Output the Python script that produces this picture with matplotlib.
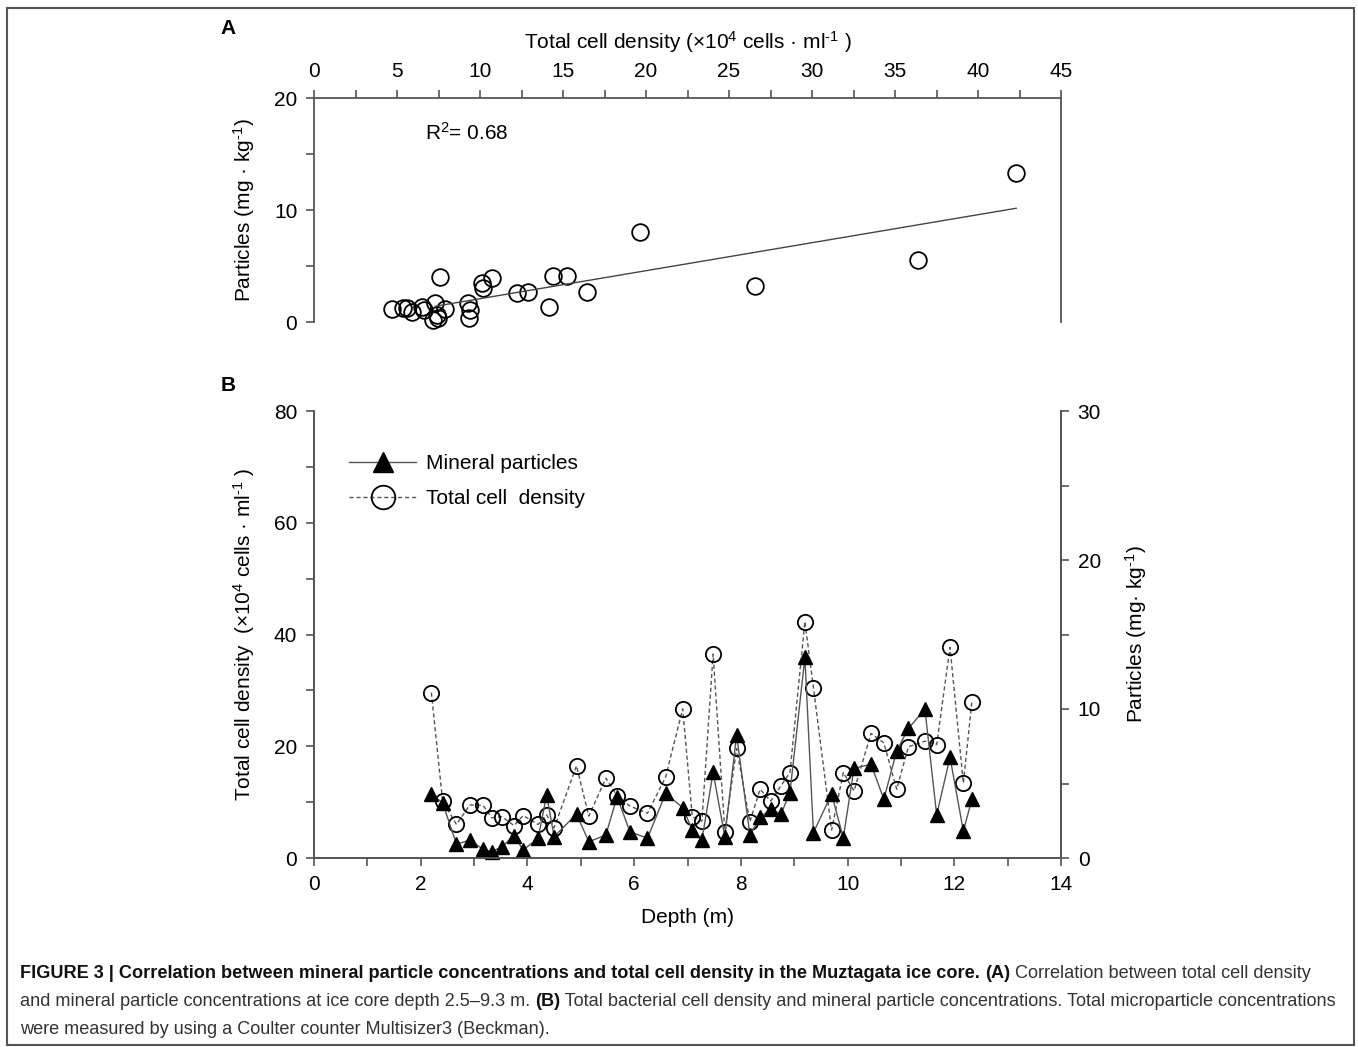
import numpy as np
import matplotlib.pyplot as plt
from matplotlib.lines import Line2D
from matplotlib.ticker import MultipleLocator

plt.rcParams['font.family'] = ['Liberation Sans', 'DejaVu Sans']
plt.rcParams['mathtext.fontset'] = 'custom'
plt.rcParams['mathtext.rm'] = 'Liberation Sans'
plt.rcParams['mathtext.it'] = 'Liberation Sans:italic'
plt.rcParams['mathtext.bf'] = 'Liberation Sans:bold'

# Panel A: cell density (x10^4 cells/ml) vs particles (mg/kg)
a_cells = [4.68, 5.38, 5.62, 5.88, 6.49, 6.63, 7.29, 7.59, 7.19, 7.39, 7.49, 7.89,
           9.3, 9.4, 9.34, 10.1, 10.16, 10.74, 12.21, 12.87, 14.42, 14.18, 15.22,
           16.43, 19.64, 26.57, 36.4, 42.3]
a_particles = [1.16, 1.22, 1.22, 0.92, 1.37, 1.07, 1.67, 3.99, 0.18, 0.63, 0.33, 1.16,
               1.67, 1.07, 0.39, 3.5, 3.06, 3.9, 2.56, 2.71, 4.1, 1.37, 4.13,
               2.68, 8.06, 3.21, 5.54, 13.3]
fit_slope = 0.25
fit_intercept = -0.42
fit_range = [7.3, 42.3]

# Panel B: depth profile
depth = [2.2, 2.41, 2.67, 2.92, 3.17, 3.33, 3.52, 3.75, 3.92, 4.2, 4.36, 4.5, 4.92,
         5.15, 5.47, 5.68, 5.92, 6.25, 6.59, 6.91, 7.09, 7.27, 7.48, 7.7, 7.92, 8.17,
         8.36, 8.56, 8.75, 8.92, 9.2, 9.36, 9.7, 9.92, 10.12, 10.44, 10.68, 10.92,
         11.14, 11.45, 11.67, 11.92, 12.17, 12.33]
cell_density = [29.6, 10.2, 6.0, 9.5, 9.4, 7.2, 7.4, 5.8, 7.6, 6.0, 7.7, 5.4, 16.5,
                7.5, 14.3, 11.1, 9.3, 8.0, 14.5, 26.7, 7.4, 6.6, 36.5, 4.7, 19.6, 6.5,
                12.3, 10.2, 12.9, 15.3, 42.3, 30.5, 5.0, 15.3, 12.0, 22.3, 20.6, 12.3,
                19.9, 20.9, 20.3, 37.7, 13.4, 28.0]
particles = [4.27, 3.71, 0.92, 1.21, 0.58, 0.42, 0.76, 1.48, 0.54, 1.32, 4.23, 1.43,
             2.95, 1.09, 1.54, 4.11, 1.77, 1.32, 4.34, 3.38, 1.88, 1.21, 5.75, 1.43,
             8.26, 1.54, 2.73, 3.27, 2.93, 4.38, 13.47, 1.70, 4.30, 1.36, 6.02, 6.29,
             3.94, 7.18, 8.70, 9.98, 2.89, 6.76, 1.81, 3.94]

W, H = 1358, 1047
fig = plt.figure(figsize=(W / 100, H / 100), dpi=100)

spine_col = '#555555'
fs = 15


def px_axes(x0, y0, x1, y1):
    return fig.add_axes([x0 / W, 1 - y1 / H, (x1 - x0) / W, (y1 - y0) / H])


# ---------- panel A ----------
axA = px_axes(314, 98, 1061, 322)
axA.plot(a_cells, a_particles, 'o', ms=12, mfc='none', mec='black', mew=1.3, clip_on=False)
fx = np.array(fit_range)
axA.plot(fx, fit_slope * fx + fit_intercept, color='#444444', lw=1.0)
axA.set_xlim(0, 45)
axA.set_ylim(0, 20)
axA.spines['bottom'].set_visible(False)
for s in ['top', 'left', 'right']:
    axA.spines[s].set_color(spine_col)
    axA.spines[s].set_linewidth(1.3)
axA.xaxis.set_ticks_position('top')
axA.xaxis.set_label_position('top')
axA.xaxis.set_major_locator(MultipleLocator(5))
axA.xaxis.set_minor_locator(MultipleLocator(2.5))
axA.yaxis.set_major_locator(MultipleLocator(10))
axA.yaxis.set_minor_locator(MultipleLocator(5))
axA.tick_params(which='both', direction='out', length=6, width=1.2, color=spine_col,
                labelsize=fs, pad=6)
axA.tick_params(axis='y', which='both', right=False)
axA.set_xlabel(r'Total cell density (×10$^4$ cells · ml$^{\text{-1}}$ )', fontsize=fs, labelpad=10)
axA.set_ylabel(r'Particles (mg · kg$^{\text{-1}}$)', fontsize=fs, labelpad=12)
axA.text(0.149, 0.845, 'R$^2$= 0.68', transform=axA.transAxes, fontsize=fs, va='center')

# ---------- panel B ----------
axB = px_axes(314, 411, 1061, 858)
axR = axB.twinx()
axB.plot(depth, cell_density, '--', color='#555555', lw=1.0, dashes=(3, 2),
         marker='o', ms=11, mfc='none', mec='black', mew=1.3, clip_on=False)
axR.plot(depth, particles, '-', color='#555555', lw=1.0,
         marker='^', ms=10, mfc='black', mec='black', clip_on=False)
axB.set_xlim(0, 14)
axB.set_ylim(0, 80)
axR.set_ylim(0, 30)
for ax in (axB, axR):
    ax.spines['top'].set_visible(False)
    for s in ['left', 'right', 'bottom']:
        ax.spines[s].set_color(spine_col)
        ax.spines[s].set_linewidth(1.3)
axB.xaxis.set_major_locator(MultipleLocator(2))
axB.xaxis.set_minor_locator(MultipleLocator(1))
axB.yaxis.set_major_locator(MultipleLocator(20))
axB.yaxis.set_minor_locator(MultipleLocator(10))
axR.yaxis.set_major_locator(MultipleLocator(10))
axR.yaxis.set_minor_locator(MultipleLocator(5))
for ax in (axB, axR):
    ax.tick_params(which='both', direction='out', length=6, width=1.2, color=spine_col,
                   labelsize=fs, pad=6)
axB.set_xlabel('Depth (m)', fontsize=fs, labelpad=10)
axB.set_ylabel(r'Total cell density  (×10$^4$ cells · ml$^{\text{-1}}$ )', fontsize=fs, labelpad=12)
axR.set_ylabel(r'Particles (mg· kg$^{\text{-1}}$)', fontsize=fs, labelpad=16)

handles = [Line2D([], [], color='#555555', lw=1.0, marker='^', ms=15, mfc='black', mec='black'),
           Line2D([], [], color='#555555', lw=1.0, dashes=(3, 2), marker='o', ms=17,
                  mfc='none', mec='black', mew=1.3)]
axB.legend(handles, ['Mineral particles', 'Total cell  density'], loc='upper left',
           bbox_to_anchor=(0.022, 0.945), frameon=False, fontsize=fs,
           handlelength=3.2, handletextpad=0.5, labelspacing=0.75)

fig.text(228 / W, 1 - 28 / H, 'A', fontsize=15, fontweight='bold', va='center', ha='center')
fig.text(228 / W, 1 - 385 / H, 'B', fontsize=15, fontweight='bold', va='center', ha='center')

# ---------- caption ----------
cap_fs = 13.1
renderer = fig.canvas.get_renderer()


def caption_line(y_px, chunks):
    x = 20
    for txt, bold in chunks:
        t = fig.text(x / W, 1 - y_px / H, txt, fontsize=cap_fs, va='center', ha='left',
                     fontweight='bold' if bold else 'normal',
                     color='#111111' if bold else '#333333')
        bb = t.get_window_extent(renderer)
        x += bb.width


caption_line(973, [('FIGURE 3 | Correlation between mineral particle concentrations and total '
                    'cell density in the Muztagata ice core.', True), (' ', False),
                   ('(A)', True), (' Correlation between total cell density', False)])
caption_line(1001, [('and mineral particle concentrations at ice core depth 2.5–9.3 m. ', False),
                    ('(B)', True),
                    (' Total bacterial cell density and mineral particle concentrations. '
                     'Total microparticle concentrations', False)])
caption_line(1029, [('were measured by using a Coulter counter Multisizer3 (Beckman).', False)])

# figure frame
fig.add_artist(plt.Rectangle((7 / W, 0.002), (1354 - 7) / W, 1 - 8 / H - 0.002,
                             transform=fig.transFigure, fill=False, ec='#555555', lw=1.5))

fig.savefig('out.png', dpi=100)
